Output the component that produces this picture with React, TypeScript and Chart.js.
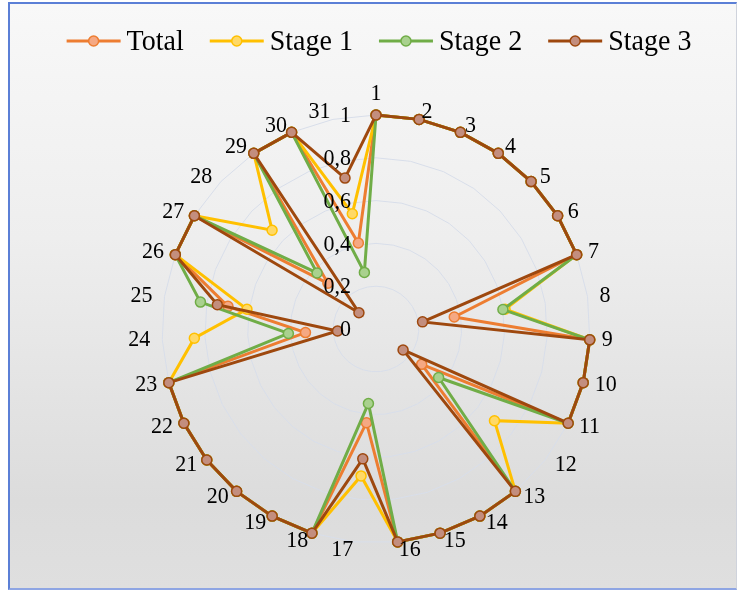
import React, { useEffect, useRef } from "react";
import { Chart, registerables } from "chart.js";

Chart.register(...registerables);

const categories = [
  "1", "2", "3", "4", "5", "6", "7", "8", "9", "10", "11", "12", "13", "14", "15", "16",
  "17", "18", "19", "20", "21", "22", "23", "24", "25", "26", "27", "28", "29", "30", "31",
];

const totalValues = [1, 1, 1, 1, 1, 1, 1, 0.37, 1, 1, 1, 0.27, 1, 1, 1, 1, 0.44, 1, 1, 1, 1, 1, 1, 0.33, 0.7, 1, 1, 0.31, 1, 1, 0.41];
const stage1Values = [1, 1, 1, 1, 1, 1, 1, 0.61, 1, 1, 1, 0.7, 1, 1, 1, 1, 0.69, 1, 1, 1, 1, 1, 1, 0.85, 0.61, 1, 1, 0.67, 1, 1, 0.55];
const stage2Values = [1, 1, 1, 1, 1, 1, 1, 0.6, 1, 1, 1, 0.37, 1, 1, 1, 1, 0.35, 1, 1, 1, 1, 1, 1, 0.41, 0.83, 1, 1, 0.38, 1, 1, 0.27];
const stage3Values = [1, 1, 1, 1, 1, 1, 1, 0.22, 1, 1, 1, 0.16, 1, 1, 1, 1, 0.61, 1, 1, 1, 1, 1, 1, 0.18, 0.75, 1, 1, 0.11, 1, 1, 0.72];

const tickValues = [0, 0.2, 0.4, 0.6, 0.8, 1];
const tickLabels = ["0", "0,2", "0,4", "0,6", "0,8", "1"];

const seriesNames = ["Total", "Stage 1", "Stage 2", "Stage 3"];
const lineColors = ["#ED7D31", "#FFC000", "#70AD47", "#9E480E"];
const markerColors = ["#F5A883", "#FFD966", "#A9D18E", "#C38E7E"];

const FONT = '"Liberation Serif", "Times New Roman", serif';
const LEGEND_CENTER_X = 379;
const LEGEND_Y = 41;
const TEXT_STRETCH = 1.08;

function tallText(ctx: CanvasRenderingContext2D, text: string, x: number, y: number) {
  ctx.save();
  ctx.translate(x, y);
  ctx.scale(1, TEXT_STRETCH);
  ctx.fillText(text, 0, 0);
  ctx.restore();
}

const radarTextPlugin = {
  id: "radarText",
  afterDatasetsDraw(chart: any) {
    const scale = chart.scales.r;
    const ctx = chart.ctx;
    const R = scale.drawingArea;
    ctx.save();
    ctx.fillStyle = "#000000";
    ctx.font = `22px ${FONT}`;
    ctx.textAlign = "center";
    ctx.textBaseline = "middle";
    categories.forEach((lab, i) => {
      const px = scale.getPointPosition(i, R + 12);
      const py = scale.getPointPosition(i, R + 7.5);
      const s = (px.x - scale.xCenter) / (R + 12);
      const w = ctx.measureText(lab).width;
      let x = px.x;
      let y = py.y;
      if (Math.abs(s) > 0.05) x += Math.sign(s) * (w / 2);
      else y += py.y < scale.yCenter ? -14 : 14;
      tallText(ctx, lab, x, y);
    });
    ctx.textAlign = "right";
    tickValues.forEach((v, k) => {
      const p = scale.getPointPositionForValue(0, v);
      tallText(ctx, tickLabels[k], scale.xCenter - 25, p.y + 1);
    });
    ctx.restore();
  },
};

const lineLegendPlugin = {
  id: "lineLegend",
  afterDraw(chart: any) {
    const ctx = chart.ctx;
    const datasets = chart.data.datasets;
    const lineLen = 54;
    const gapText = 6;
    const gapItem = 26;
    ctx.save();
    ctx.font = `28px ${FONT}`;
    const widths = datasets.map((ds: any) => lineLen + gapText + ctx.measureText(ds.label).width);
    const total = widths.reduce((a: number, b: number) => a + b, 0) + gapItem * (datasets.length - 1);
    let x = LEGEND_CENTER_X - total / 2;
    datasets.forEach((ds: any, i: number) => {
      ctx.strokeStyle = ds.borderColor;
      ctx.lineWidth = 3;
      ctx.beginPath();
      ctx.moveTo(x, LEGEND_Y);
      ctx.lineTo(x + lineLen, LEGEND_Y);
      ctx.stroke();
      ctx.beginPath();
      ctx.arc(x + lineLen / 2, LEGEND_Y, 5, 0, Math.PI * 2);
      ctx.fillStyle = ds.pointBackgroundColor;
      ctx.fill();
      ctx.lineWidth = 1.5;
      ctx.stroke();
      ctx.fillStyle = "#000000";
      ctx.textAlign = "left";
      ctx.textBaseline = "middle";
      tallText(ctx, ds.label, x + lineLen + gapText, LEGEND_Y + 1);
      x += widths[i] + gapItem;
    });
    ctx.restore();
  },
};

const seriesValues = [totalValues, stage1Values, stage2Values, stage3Values];

export default function App() {
  const ref = useRef<HTMLCanvasElement>(null);

  useEffect(() => {
    if (!ref.current) return;
    const chart = new Chart(ref.current, {
      type: "radar",
      data: {
        labels: categories,
        datasets: seriesNames.map((name, i) => ({
          label: name,
          data: seriesValues[i],
          borderColor: lineColors[i],
          backgroundColor: lineColors[i],
          borderWidth: 3,
          pointRadius: 5,
          pointBorderWidth: 1.5,
          pointBackgroundColor: markerColors[i],
          pointBorderColor: lineColors[i],
          fill: false,
          tension: 0,
          order: seriesNames.length - i,
        })),
      },
      options: {
        responsive: false,
        animation: false,
        layout: { padding: { top: 115, bottom: 47, left: 15, right: 0 } },
        plugins: {
          legend: { display: false },
          tooltip: { enabled: false },
        },
        scales: {
          r: {
            min: 0,
            max: 1,
            ticks: { display: false, stepSize: 0.2 },
            pointLabels: { display: false },
            angleLines: { display: false },
            grid: { color: "#d8deea", lineWidth: 1 },
          },
        },
      },
      plugins: [radarTextPlugin, lineLegendPlugin],
    } as any);
    return () => chart.destroy();
  }, []);

  return (
    <div style={{ position: "fixed", left: 0, top: 0, width: 737, height: 590, overflow: "hidden" }}>
      <div
        style={{
          position: "absolute",
          left: 8,
          top: 2,
          width: 729,
          height: 588,
          boxSizing: "border-box",
          borderTop: "2px solid #5b7fd6",
          borderLeft: "2px solid #5b7fd6",
          borderBottom: "2px solid #8ea5e3",
          borderRight: "1px solid #cfd3dc",
          background: "linear-gradient(180deg, #f8f8f8 0%, #eeeeee 40%, #dcdcdc 85%, #dfdfdf 100%)",
        }}
      />
      <canvas
        ref={ref}
        width={737}
        height={590}
        style={{ position: "absolute", left: 0, top: 0, width: 737, height: 590 }}
      />
    </div>
  );
}
